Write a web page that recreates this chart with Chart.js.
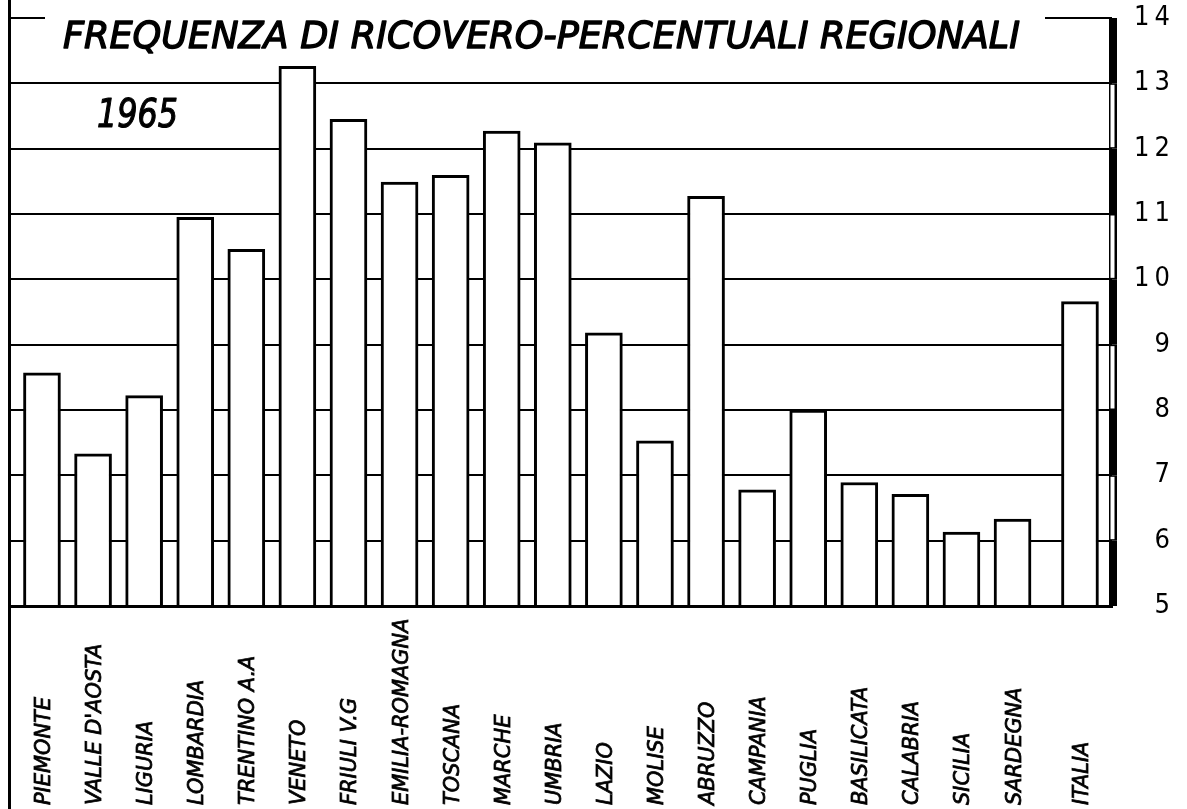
<!DOCTYPE html>
<html><head><meta charset="utf-8">
<script src="https://cdn.jsdelivr.net/npm/chart.js@4.4.1/dist/chart.umd.min.js"></script>
<style>html,body{margin:0;padding:0;background:#fff;overflow:hidden}#wrap{position:relative;width:1187px;height:809px}</style>
</head><body><div id="wrap"><canvas id="c"></canvas></div>
<script>
// ---- data ----
const categories = ['PIEMONTE', "VALLE D'AOSTA", 'LIGURIA', 'LOMBARDIA', 'TRENTINO A.A', 'VENETO', 'FRIULI V.G', 'EMILIA-ROMAGNA', 'TOSCANA', 'MARCHE', 'UMBRIA', 'LAZIO', 'MOLISE', 'ABRUZZO', 'CAMPANIA', 'PUGLIA', 'BASILICATA', 'CALABRIA', 'SICILIA', 'SARDEGNA', 'ITALIA'];
const values = [8.57, 7.33, 8.22, 10.95, 10.46, 13.26, 12.45, 11.49, 11.59, 12.27, 12.09, 9.18, 7.53, 11.27, 6.78, 8.0, 6.89, 6.71, 6.13, 6.33, 9.66];
const yTicks = [5, 6, 7, 8, 9, 10, 11, 12, 13, 14];
const titleText = 'FREQUENZA DI RICOVERO-PERCENTUALI REGIONALI';
const yearText = '1965';

// ---- layout helpers ----
const ITALIA_GAP = 0.32;
const positions = categories.map((c, i) => i + (c === 'ITALIA' ? ITALIA_GAP : 0));
const points = values.map((v, i) => ({ x: positions[i], y: v }));

function fitText(ctx, text, x, y, w, font, sw) {
  ctx.save();
  ctx.font = font;
  const m = ctx.measureText(text).width;
  ctx.translate(x, y);
  ctx.scale(w / m, 1);
  ctx.textAlign = 'left';
  ctx.textBaseline = 'alphabetic';
  ctx.fillText(text, 0, 0);
  if (sw) { ctx.lineWidth = sw; ctx.lineJoin = 'round'; ctx.strokeText(text, 0, 0); }
  ctx.restore();
}

const deco = {
  id: 'deco',
  beforeDraw(chart) { chart.ctx.letterSpacing = '5px'; },
  afterDraw(chart) {
    const { ctx, chartArea: a, scales: { x, y } } = chart;
    ctx.save();
    ctx.letterSpacing = '0px';
    ctx.fillStyle = '#000';
    ctx.strokeStyle = '#000';
    // left frame line (full height)
    ctx.fillRect(a.left - 2, 0, 3, chart.height);
    // top line broken by the title
    const yTop = y.getPixelForValue(14);
    ctx.lineWidth = 2;
    ctx.beginPath();
    ctx.moveTo(a.left, yTop); ctx.lineTo(45, yTop);
    ctx.moveTo(1045, yTop); ctx.lineTo(a.right, yTop);
    ctx.stroke();
    // right scale bar with alternating segments
    const bx = a.right - 3, bw = 8;
    for (let v = yTicks[0]; v < yTicks[yTicks.length - 1]; v++) {
      const y1 = y.getPixelForValue(v + 1), y2 = y.getPixelForValue(v);
      ctx.fillStyle = '#000';
      ctx.fillRect(bx, y1, bw, y2 - y1);
      if (v % 2 === 0) {
        ctx.fillStyle = '#fff';
        ctx.fillRect(bx + 1.5, y1 + 1.5, 4, y2 - y1 - 3);
      }
    }
    // title and year
    ctx.fillStyle = '#000';
    fitText(ctx, titleText, 63, 48, 957, 'italic 38px "DejaVu Sans"', 1.4);
    fitText(ctx, yearText, 97, 127, 81, 'italic 39px "DejaVu Sans"', 1.2);
    // category labels, vertical, starting at the bottom
    ctx.font = 'italic 22px "DejaVu Sans"';
    ctx.textAlign = 'left';
    ctx.textBaseline = 'alphabetic';
    ctx.lineWidth = 0.8;
    categories.forEach((c, i) => {
      const px = x.getPixelForValue(positions[i]);
      ctx.save();
      ctx.translate(px, 805);
      ctx.rotate(-Math.PI / 2);
      ctx.scale(0.95, 1);
      ctx.fillText(c, 0, 8);
      ctx.strokeText(c, 0, 8);
      ctx.restore();
    });
    ctx.restore();
  }
};

new Chart(document.getElementById('c'), {
  type: 'bar',
  data: {
    datasets: [{
      data: points,
      backgroundColor: '#fff',
      borderColor: '#000',
      borderWidth: 3,
      barThickness: 37,
      base: 5,
      borderSkipped: 'start'
    }]
  },
  options: {
    responsive: true,
    maintainAspectRatio: false,
    animation: false,
    layout: { padding: { left: 10, top: 18, right: 12, bottom: 0 } },
    plugins: { legend: { display: false }, tooltip: { enabled: false }, title: { display: false } },
    scales: {
      x: {
        type: 'linear', min: -0.626, max: 20.947, offset: false,
        grid: { display: false },
        border: { display: true, color: '#000', width: 3 },
        ticks: { display: false },
        afterFit(s) { s.height = 203; }
      },
      y: {
        position: 'right', min: 5, max: 14,
        afterBuildTicks(s) { s.ticks = yTicks.map(v => ({ value: v })); },
        grid: {
          color: c => (c.tick && c.tick.value === 14) ? 'rgba(0,0,0,0)' : '#000',
          lineWidth: 2, drawTicks: false
        },
        border: { display: false },
        ticks: {
          crossAlign: 'far', padding: 0, color: '#000',
          font: { family: "'DejaVu Sans Condensed', 'DejaVu Sans', sans-serif", size: 27 }
        },
        afterFit(s) { s.width = 63; }
      }
    }
  },
  plugins: [deco]
});
</script>
</body></html>
